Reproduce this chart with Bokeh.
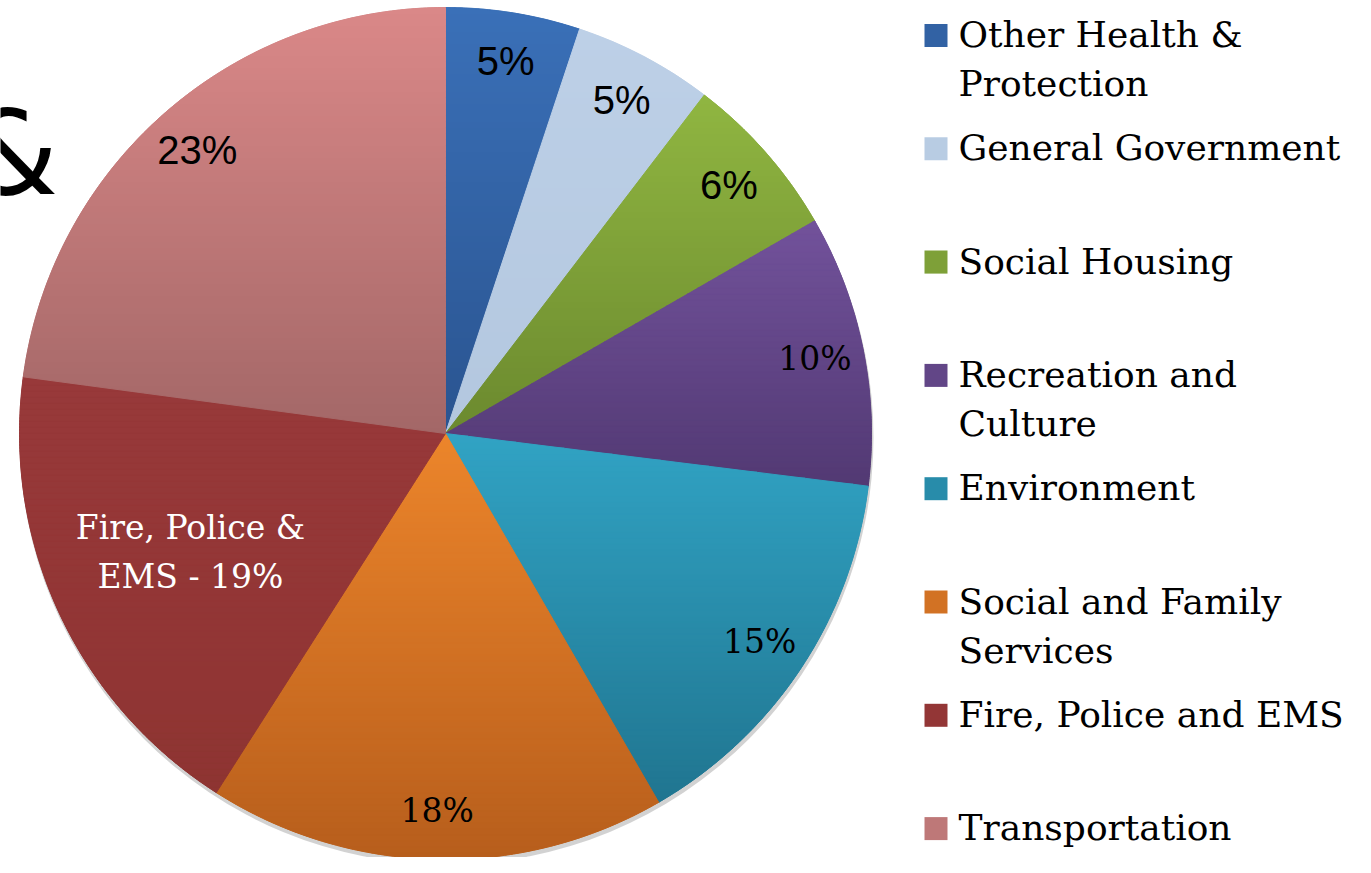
import numpy as np
from bokeh.plotting import figure
from bokeh.models import Range1d, ColumnDataSource
from bokeh.core.properties import value
from bokeh.embed import file_html
from bokeh.resources import INLINE

# ---------------- data ----------------
categories = ["Other Health & Protection", "General Government", "Social Housing",
              "Recreation and Culture", "Environment", "Social and Family Services",
              "Fire, Police and EMS", "Transportation"]
shares = [5.1, 5.3, 6.3, 10.3, 14.7, 17.4, 18.1, 22.9]
pct_labels = ["5%", "5%", "6%", "10%", "15%", "18%", "Fire, Police &\nEMS - 19%", "23%"]
legend_labels = ["Other Health &\nProtection", "General Government", "Social Housing",
                 "Recreation and\nCulture", "Environment", "Social and Family\nServices",
                 "Fire, Police and EMS", "Transportation"]

# ---------------- styles ----------------
colors_top = ["#3a70b8", "#bdd0e7", "#90b641", "#72529b", "#31a3c4", "#ec852b", "#98393a", "#da8888"]
colors_bottom = ["#2a5490", "#b3c7df", "#6b892e", "#523973", "#207590", "#b75e1c", "#8e3432", "#a36767"]
label_fonts = ["Liberation Sans", "Liberation Sans", "Liberation Sans", "DejaVu Serif",
               "DejaVu Serif", "DejaVu Serif", "DejaVu Serif", "Liberation Sans"]
label_colors = ["black"] * 6 + ["white", "black"]

W, H = 1355, 857


def X(sx):
    return sx


def Y(sy):
    return H - sy


def hexmix(a, b, t):
    a = [int(a[i:i + 2], 16) for i in (1, 3, 5)]
    b = [int(b[i:i + 2], 16) for i in (1, 3, 5)]
    c = [round(a[k] + (b[k] - a[k]) * t) for k in range(3)]
    return "#%02x%02x%02x" % tuple(c)


def clip(poly, yc, keep_above):
    out = []
    n = len(poly)
    for i in range(n):
        p1 = poly[i]
        p2 = poly[(i + 1) % n]
        in1 = (p1[1] >= yc) if keep_above else (p1[1] <= yc)
        in2 = (p2[1] >= yc) if keep_above else (p2[1] <= yc)
        if in1:
            out.append(p1)
        if in1 != in2:
            t = (yc - p1[1]) / (p2[1] - p1[1])
            out.append((p1[0] + t * (p2[0] - p1[0]), yc))
    return out


p = figure(width=W, height=H, x_range=Range1d(0, W), y_range=Range1d(0, H),
           output_backend="svg", toolbar_location=None, min_border=0)
p.axis.visible = False
p.grid.visible = False
p.outline_line_color = None
p.background_fill_color = "white"

cx, cy, R = X(445), Y(433), 426

frac = np.array(shares) / sum(shares)
ends = np.cumsum(frac)
starts = ends - frac
start_angle = np.pi / 2 - ends * 2 * np.pi
end_angle = np.pi / 2 - starts * 2 * np.pi

# shadow
p.circle(x=[cx + 1], y=[cy - 4], radius=R + 1, fill_color="#7f7f7f", fill_alpha=0.35, line_color=None)

mid_colors = [hexmix(a, b, 0.5) for a, b in zip(colors_top, colors_bottom)]
src = ColumnDataSource(dict(cat=categories, start=start_angle, end=end_angle, color=mid_colors))
p.wedge(x=cx, y=cy, radius=R, start_angle="start", end_angle="end", fill_color="color",
        line_color="color", line_width=0.5, source=src)

# gradient bands per slice
bxs, bys, bcol = [], [], []
for i in range(len(shares)):
    t = np.linspace(start_angle[i], end_angle[i], 160)
    poly = [(cx, cy)] + [(cx + R * np.cos(a), cy + R * np.sin(a)) for a in t]
    ys = [q[1] for q in poly]
    ymin, ymax = min(ys), max(ys)
    edges = np.arange(ymin, ymax + 6, 6.0)
    for j in range(len(edges) - 1):
        y0, y1 = edges[j], edges[j + 1]
        band = clip(clip(poly, y0, True), y1, False)
        if len(band) < 3:
            continue
        tt = (ymax - (y0 + y1) / 2) / (ymax - ymin)
        tt = min(max(tt, 0), 1)
        bxs.append([q[0] for q in band])
        bys.append([q[1] for q in band])
        bcol.append(hexmix(colors_top[i], colors_bottom[i], tt))
p.patches(xs=bxs, ys=bys, fill_color=bcol, line_color=bcol, line_width=1)

# slice labels
mid_ang = (start_angle + end_angle) / 2
for font in ["Liberation Sans", "DejaVu Serif"]:
    idx = [i for i in range(len(shares)) if label_fonts[i] == font]
    rr = [R * (0.66 if "\n" in pct_labels[i] else 0.885) for i in idx]
    lx = [cx + r * np.cos(mid_ang[i]) for r, i in zip(rr, idx)]
    ly = [cy + r * np.sin(mid_ang[i]) for r, i in zip(rr, idx)]
    p.text(x=lx, y=ly, text=[pct_labels[i] for i in idx],
           text_color=[label_colors[i] for i in idx],
           text_font=value(font), text_font_size="40px" if font == "Liberation Sans" else "33px",
           text_align="center", text_baseline="middle", text_line_height=1.27)

# legend
sq_x = X(935.5)
tx = X(958)
step = 113.3
first = 35
sq_y = [Y(first + k * step) for k in range(len(legend_labels))]
p.rect(x=sq_x, y=sq_y, width=23, height=23, fill_color=mid_colors, line_color=None)
lt, lxs, lys = [], [], []
for k, lab in enumerate(legend_labels):
    for j, line in enumerate(lab.split("\n")):
        lt.append(line)
        lxs.append(tx)
        lys.append(sq_y[k] + 1 - j * 49)
p.text(x=lxs, y=lys, text=lt, text_font=value("DejaVu Serif"), text_font_size="36px",
       text_color="black", text_align="left", text_baseline="alphabetic")

# partially visible title character (cut off at the left edge, as in the source slide)
p.text(x=[X(58)], y=[Y(153)], text=["&"], text_font=value("DejaVu Sans"), text_font_size="117px",
       text_color="black", text_align="right", text_baseline="alphabetic")

open("out.html", "w").write(file_html(p, INLINE))
